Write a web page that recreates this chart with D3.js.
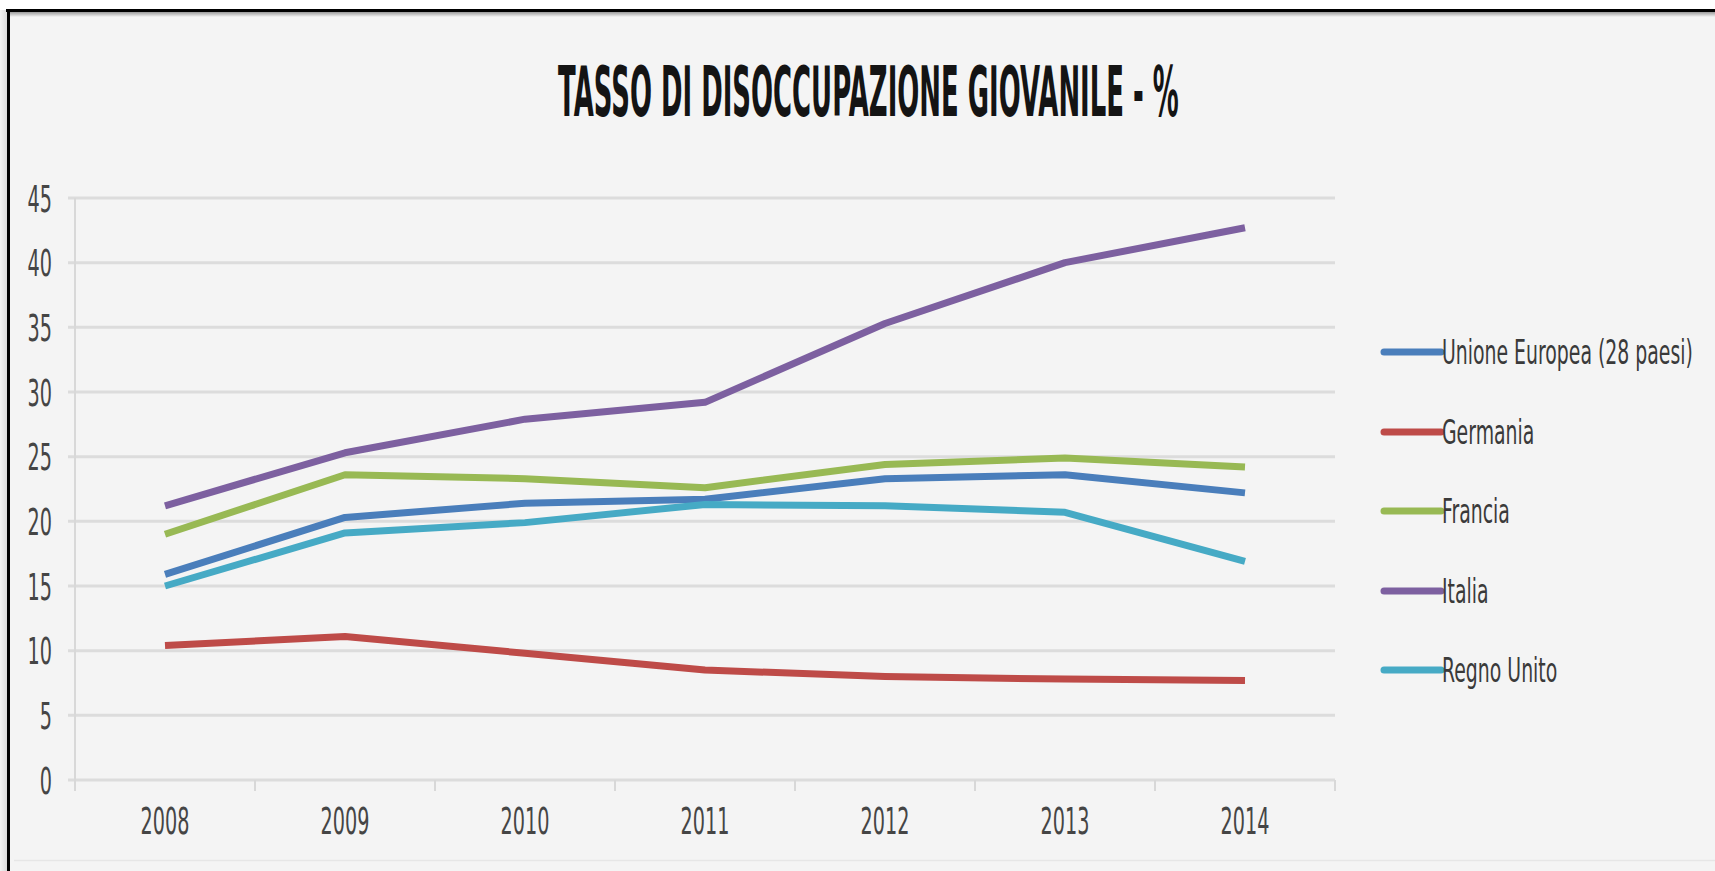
<!DOCTYPE html>
<html>
<head>
<meta charset="utf-8">
<script src="https://cdn.jsdelivr.net/npm/d3@7"></script>
<style>
  body { margin: 0; background: #ffffff; }
  svg { display: block; }
</style>
</head>
<body>
<svg id="chart" width="1715" height="871"></svg>
<script>
// Youth unemployment rate (%), 2008–2014
const years = ["2008", "2009", "2010", "2011", "2012", "2013", "2014"];
const seriesNames = ["Unione Europea (28 paesi)", "Germania", "Francia", "Italia", "Regno Unito"];
const ueValues       = [15.9, 20.3, 21.4, 21.7, 23.3, 23.6, 22.2];
const germaniaValues = [10.4, 11.1, 9.8, 8.5, 8.0, 7.8, 7.7];
const franciaValues  = [19.0, 23.6, 23.3, 22.6, 24.4, 24.9, 24.2];
const italiaValues   = [21.2, 25.3, 27.9, 29.2, 35.3, 40.0, 42.7];
const regnoValues    = [15.0, 19.1, 19.9, 21.3, 21.2, 20.7, 16.9];
const yTickValues = [0, 5, 10, 15, 20, 25, 30, 35, 40, 45];
const titleText = "TASSO DI DISOCCUPAZIONE GIOVANILE - %";

const seriesValues = [ueValues, germaniaValues, franciaValues, italiaValues, regnoValues];
const seriesColors = ["#4a7ebb", "#be4b48", "#98b954", "#7d60a0", "#46aac5"];

const svg = d3.select("#chart");
const W = 1715, H = 871;

// ---- page frame ----
const defs = svg.append("defs");
const sideGrad = defs.append("linearGradient").attr("id", "sideShade")
  .attr("x1", 0).attr("x2", 1).attr("y1", 0).attr("y2", 0);
sideGrad.append("stop").attr("offset", "0%").attr("stop-color", "#f2f2f2");
sideGrad.append("stop").attr("offset", "100%").attr("stop-color", "#d6d6d6");
const topGrad = defs.append("linearGradient").attr("id", "topShade")
  .attr("x1", 0).attr("x2", 0).attr("y1", 0).attr("y2", 1);
topGrad.append("stop").attr("offset", "0%").attr("stop-color", "#9a9a9a");
topGrad.append("stop").attr("offset", "100%").attr("stop-color", "#f4f4f4");

svg.append("rect").attr("width", W).attr("height", H).attr("fill", "#ffffff");
svg.append("rect").attr("x", 0).attr("y", 10).attr("width", 8).attr("height", H - 10).attr("fill", "url(#sideShade)");
svg.append("rect").attr("x", 8).attr("y", 10).attr("width", W - 8).attr("height", H - 10).attr("fill", "#f4f4f4");
svg.append("rect").attr("x", 10).attr("y", 12).attr("width", W - 10).attr("height", 5).attr("fill", "url(#topShade)");
svg.append("line").attr("x1", 6).attr("x2", W).attr("y1", 10.5).attr("y2", 10.5)
  .attr("stroke", "#000").attr("stroke-width", 3);
svg.append("line").attr("x1", 8.5).attr("x2", 8.5).attr("y1", 9).attr("y2", H)
  .attr("stroke", "#000").attr("stroke-width", 3);
svg.append("line").attr("x1", 14).attr("x2", W).attr("y1", 860.5).attr("y2", 860.5)
  .attr("stroke", "#e6e6e6").attr("stroke-width", 1.5);

// ---- title (bold, horizontally condensed to its target width) ----
const titleLeft = 558, titleWidth = 621;
const title = svg.append("text")
  .attr("font-family", "'DejaVu Sans', sans-serif")
  .attr("font-weight", "bold").attr("font-size", 70)
  .attr("fill", "#141414")
  .text(titleText);
const titleNatural = title.node().getComputedTextLength();
title.attr("transform", `translate(${titleLeft},116) scale(${titleWidth / titleNatural},1)`);

// ---- scales ----
const plotLeft = 75, plotRight = 1335, plotTop = 198, plotBottom = 780;
const x = d3.scaleBand().domain(years).range([plotLeft, plotRight]).padding(0);
const y = d3.scaleLinear().domain([0, 45]).range([plotBottom, plotTop]);

const labelFont = "'DejaVu Sans', sans-serif";
const labelScale = 0.52;
const labelSize = 37;
const labelColor = "#454545";

// horizontal gridlines
svg.append("g").selectAll("line").data(yTickValues).join("line")
  .attr("x1", plotLeft - 7).attr("x2", plotRight)
  .attr("y1", d => y(d)).attr("y2", d => y(d))
  .attr("stroke", "#dcdcdc").attr("stroke-width", 3);

// category boundary ticks below the x axis (the first one doubles as the y axis line)
const boundaries = years.map(d => x(d)).concat([x.range()[1]]);
svg.append("g").selectAll("line").data(boundaries).join("line")
  .attr("x1", d => d).attr("x2", d => d)
  .attr("y1", d => d === plotLeft ? plotTop : plotBottom).attr("y2", plotBottom + 11)
  .attr("stroke", "#d8d8d8").attr("stroke-width", 2);

// y axis labels
const yAxis = svg.append("g").attr("transform", `translate(${plotLeft},0)`)
  .call(d3.axisLeft(y).tickValues(yTickValues).tickSize(0).tickPadding(23));
yAxis.select(".domain").remove();
yAxis.selectAll("text")
  .attr("font-family", labelFont).attr("font-size", labelSize).attr("fill", labelColor)
  .attr("dy", "0.36em")
  .each(function () {
    const t = d3.select(this);
    t.attr("x", +t.attr("x") / labelScale).attr("transform", `scale(${labelScale},1)`);
  });

// x axis labels
const xAxis = svg.append("g").attr("transform", `translate(0,${plotBottom})`)
  .call(d3.axisBottom(x).tickSize(0).tickPadding(28));
xAxis.select(".domain").remove();
xAxis.selectAll(".tick").each(function () {
  const g = d3.select(this);
  const tx = +g.attr("transform").match(/translate\(([-\d.]+)/)[1];
  g.attr("transform", `translate(${tx},0) scale(${labelScale},1)`);
});
xAxis.selectAll("text")
  .attr("font-family", labelFont).attr("font-size", labelSize).attr("fill", labelColor);

// ---- series lines ----
const line = d3.line().x((d, i) => x(years[i]) + x.bandwidth() / 2).y(d => y(d));
svg.append("g").selectAll("path").data(seriesValues).join("path")
  .attr("d", d => line(d))
  .attr("fill", "none")
  .attr("stroke", (d, i) => seriesColors[i])
  .attr("stroke-width", 7)
  .attr("stroke-linejoin", "round");

// ---- legend ----
const legendY = [352, 432, 511, 591, 670];
const legend = svg.append("g").selectAll("g").data(seriesNames).join("g")
  .attr("transform", (d, i) => `translate(1384,${legendY[i]})`);
legend.append("line")
  .attr("x1", 0).attr("x2", 57).attr("y1", 0).attr("y2", 0)
  .attr("stroke", (d, i) => seriesColors[i]).attr("stroke-width", 7)
  .attr("stroke-linecap", "round");
legend.append("text")
  .attr("transform", "translate(58,0) scale(0.555,1)")
  .attr("dy", "0.36em")
  .attr("font-family", labelFont).attr("font-size", 34).attr("fill", "#3a3a3a")
  .text(d => d);
</script>
</body>
</html>
